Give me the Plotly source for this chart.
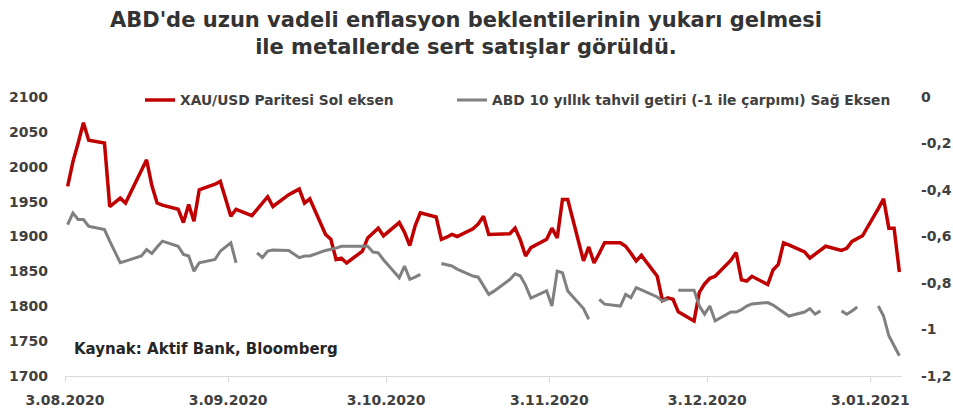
import pandas as pd
import plotly.graph_objects as go

# Business days from 3 Aug 2020 to 8 Jan 2021
dates = pd.bdate_range("2020-08-03", "2021-01-08")

# XAU/USD (left axis)
gold = [
    # Aug
    1972, 2007, 2034, 2063, 2038, 2034, 1943, 1949, 1955, 1948, 1995, 2010, 1973, 1948, 1945, 1939, 1920, 1946, 1922, 1967, 1975,
    # Sep
    1979, 1954, 1929, 1939, 1930, 1939, 1948, 1957, 1943, 1960, 1964, 1968, 1948, 1954, 1903, 1896, 1867, 1869, 1862, 1879, 1898, 1905,
    # Oct
    1912, 1901, 1920, 1906, 1887, 1915, 1934, 1928, 1896, 1899, 1903, 1900, 1911, 1918, 1929, 1903, 1903, 1904, 1912, 1895, 1872, 1884,
    # Nov
    1896, 1912, 1898, 1953, 1953, 1865, 1885, 1862, 1876, 1891, 1891, 1886, 1876, 1865, 1873, 1843, 1808, 1812, 1810, 1792, 1779,
    # Dec
    1820, 1832, 1840, 1843, 1866, 1877, 1838, 1836, 1843, 1831, 1852, 1860, 1891, 1888, 1878, 1869, 1875, 1880, 1886, 1880, 1883, 1893, 1897,
    # Jan
    1901, 1940, 1954, 1912, 1912, 1849,
]

# US 10y yield x (-1) (right axis); None = bond market closed
yield_neg = [
    # Aug
    -0.549, -0.499, -0.527, -0.527, -0.556, -0.570, -0.620, -0.670, -0.713, -0.706, -0.684, -0.656, -0.673, -0.645, -0.620, -0.642, -0.677, -0.684, -0.749, -0.713, -0.699,
    # Sep
    -0.663, -0.645, -0.627, -0.713, None, -0.670, -0.691, -0.663, -0.658, -0.660, -0.675, -0.691, -0.684, -0.684, -0.660, -0.656, -0.650, -0.642, -0.642, -0.642, -0.642, -0.667,
    # Oct
    -0.670, -0.700, -0.777, -0.727, -0.784, -0.775, -0.763, None, -0.716, -0.720, -0.727, -0.740, -0.770, -0.775, -0.810, -0.849, -0.835, -0.785, -0.760, -0.770, -0.810, -0.865,
    # Nov
    -0.834, -0.899, -0.749, -0.756, -0.834, -0.910, -0.956, None, -0.870, -0.891, -0.899, -0.849, -0.863, -0.820, -0.830, -0.860, -0.877, -0.870, None, -0.831, -0.831,
    # Dec
    -0.899, -0.934, -0.899, -0.963, -0.925, -0.925, -0.915, -0.899, -0.890, -0.884, -0.895, -0.910, -0.925, -0.942, -0.925, -0.910, -0.934, -0.920, None, -0.920, -0.934, -0.920, -0.903,
    # Jan
    None, -0.899, -0.942, -1.027, -1.070, -1.113,
]

x_tick_vals = ["2020-08-03", "2020-09-03", "2020-10-03", "2020-11-03", "2020-12-03", "2021-01-03"]
x_tick_text = ["3.08.2020", "3.09.2020", "3.10.2020", "3.11.2020", "3.12.2020", "3.01.2021"]
left_ticks = [1700, 1750, 1800, 1850, 1900, 1950, 2000, 2050, 2100]
right_ticks = [0, -0.2, -0.4, -0.6, -0.8, -1.0, -1.2]
right_text = ["0", "-0,2", "-0,4", "-0,6", "-0,8", "-1", "-1,2"]

name_gold = "XAU/USD Paritesi Sol eksen"
name_yield = "ABD 10 yıllık tahvil getiri (-1 ile çarpımı) Sağ Eksen"
title_lines = ["ABD'de uzun vadeli enflasyon beklentilerinin yukarı gelmesi",
               "ile metallerde sert satışlar görüldü."]
source_text = "Kaynak: Aktif Bank, Bloomberg"

# Excel-style date axis: points sit in the middle of each day slot
x = dates + pd.Timedelta(hours=12)

FONT = "DejaVu Sans"
TXT = "#404040"
L, R, T, B = 65, 51, 97, 42
W, H = 953, 418
PW, PH = W - L - R, H - T - B


def px_x(p):
    return (p - L) / PW


def px_y(p):
    return (H - B - p) / PH


fig = go.Figure()
fig.add_trace(go.Scatter(x=x, y=gold, name=name_gold, mode="lines",
                         line=dict(color="#C00000", width=3.5), yaxis="y", legend="legend"))
fig.add_trace(go.Scatter(x=x, y=yield_neg, name=name_yield, mode="lines",
                         line=dict(color="#808080", width=3), yaxis="y2", legend="legend2",
                         connectgaps=False))

legend_font = dict(family=FONT, size=13.8, color=TXT, weight="bold")

fig.update_layout(
    width=W, height=H,
    margin=dict(l=L, r=R, t=T, b=B, autoexpand=False),
    paper_bgcolor="white", plot_bgcolor="white",
    showlegend=True,
    font=dict(family=FONT, size=14, color=TXT, weight="bold"),
    xaxis=dict(type="date", range=["2020-08-03", "2021-01-09"],
               tickvals=x_tick_vals, ticktext=x_tick_text,
               ticks="outside", ticklen=5, tickcolor="#d9d9d9",
               showline=True, linecolor="#d9d9d9", linewidth=1,
               showgrid=False, zeroline=False, ticklabelstandoff=6, automargin=False,
               tickfont=dict(family=FONT, size=14, color=TXT, weight="bold")),
    yaxis=dict(range=[1700, 2100], tickvals=left_ticks, showgrid=False, zeroline=False,
               showline=False, ticks="", ticklabelstandoff=16, automargin=False,
               tickfont=dict(family=FONT, size=14, color=TXT, weight="bold")),
    yaxis2=dict(range=[-1.2, 0], tickvals=right_ticks, ticktext=right_text,
                overlaying="y", side="right", showgrid=False, zeroline=False,
                showline=False, ticks="", ticklabelstandoff=18, automargin=False,
                tickfont=dict(family=FONT, size=14, color=TXT, weight="bold")),
    legend=dict(orientation="h", x=px_x(140), xanchor="left", y=px_y(100), yanchor="middle",
                bgcolor="rgba(0,0,0,0)", font=legend_font),
    legend2=dict(orientation="h", x=px_x(452), xanchor="left", y=px_y(100), yanchor="middle",
                 bgcolor="rgba(0,0,0,0)", font=legend_font),
    annotations=[
        dict(text="<br>".join(title_lines), xref="paper", yref="paper",
             x=px_x(466), xanchor="center", y=px_y(33), yanchor="middle",
             showarrow=False, align="center",
             font=dict(family=FONT, size=21, color="#333333", weight="bold")),
        dict(text=source_text, xref="paper", yref="paper",
             x=px_x(72), xanchor="left", y=px_y(349), yanchor="middle",
             showarrow=False,
             font=dict(family=FONT, size=15, color="#262626", weight="bold")),
    ],
)

fig.write_html("out.html", config={"displayModeBar": False},
               post_script="document.body.style.margin='0px';")
